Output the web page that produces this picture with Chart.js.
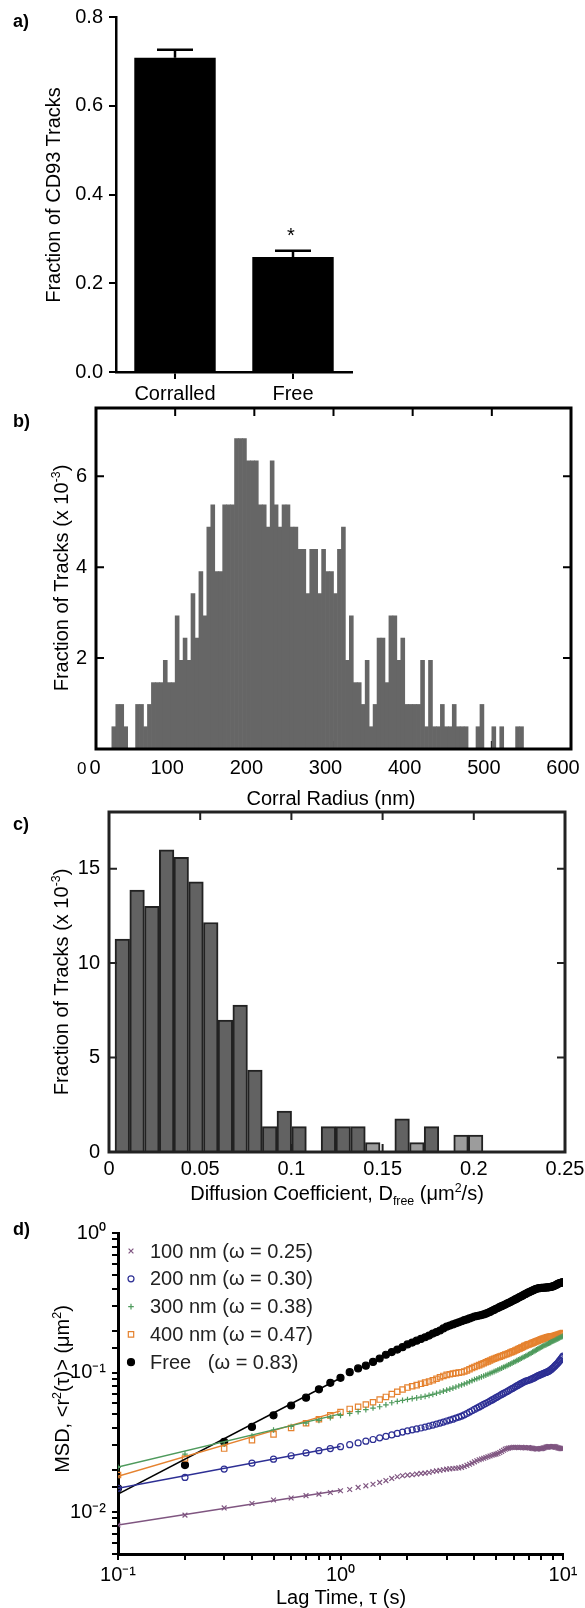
<!DOCTYPE html>
<html>
<head>
<meta charset="utf-8">
<script src="https://cdn.jsdelivr.net/npm/chart.js@4.4.1/dist/chart.umd.min.js"></script>
<style>
  body { margin:0; width:585px; height:1608px; position:relative; background:#fff; overflow:hidden;
         font-family:"Liberation Sans", Arial, Helvetica, sans-serif; color:#000; }
  canvas { position:absolute; left:0; }
  .tag { position:absolute; left:13px; font-size:18px; font-weight:bold; line-height:1; }
  .ttl { position:absolute; font-size:20px; line-height:1; white-space:nowrap; transform:translate(-50%,-50%); }
  .ttl.v { transform:translate(-50%,-50%) rotate(-90deg); }
  .zeros { position:absolute; left:77px; top:757px; font-size:20px; line-height:1; white-space:nowrap; z-index:5; }
  sup, sub { font-size:0.62em; line-height:0; }
</style>
</head>
<body>
<canvas id="chartA" width="585" height="400" style="top:0"></canvas>
<canvas id="chartB" width="585" height="400" style="top:390px"></canvas>
<canvas id="chartC" width="585" height="410" style="top:790px"></canvas>
<canvas id="chartD" width="585" height="408" style="top:1200px"></canvas>

<div class="tag" style="top:12px">a)</div>
<div class="tag" style="top:412px">b)</div>
<div class="tag" style="top:815px">c)</div>
<div class="tag" style="top:1220px">d)</div>

<div class="ttl v" style="left:53px;top:195px">Fraction of CD93 Tracks</div>
<div class="ttl v" style="left:61px;top:578px">Fraction of Tracks (x 10<sup>-3</sup>)</div>
<div class="zeros"><span style="font-size:17px">0</span><span style="margin-left:3px">0</span></div>
<div class="ttl" style="left:331px;top:798px">Corral Radius (nm)</div>
<div class="ttl v" style="left:61px;top:982px">Fraction of Tracks (x 10<sup>-3</sup>)</div>
<div class="ttl" style="left:337px;top:1193px">Diffusion Coefficient, D<sub>free</sub> (μm<sup>2</sup>/s)</div>
<div class="ttl v" style="left:62px;top:1389px">MSD, &lt;r<sup>2</sup>(τ)&gt; (μm<sup>2</sup>)</div>
<div class="ttl" style="left:341px;top:1597px">Lag Time, τ (s)</div>

<script>
// a) corralled vs free
var trackCats = ['Corralled', 'Free'];
var trackFrac = [0.708, 0.259];
var trackErr = [0.018, 0.014];

// b) corral radius histogram (nm, x 10^-3)
var radiusBins = [22.5,27.5,32.5,37.5,42.5,47.5,52.5,57.5,62.5,67.5,
  72.5,77.5,82.5,87.5,92.5,97.5,102.5,107.5,112.5,117.5,
  122.5,127.5,132.5,137.5,142.5,147.5,152.5,157.5,162.5,167.5,
  172.5,177.5,182.5,187.5,192.5,197.5,202.5,207.5,212.5,217.5,
  222.5,227.5,232.5,237.5,242.5,247.5,252.5,257.5,262.5,267.5,
  272.5,277.5,282.5,287.5,292.5,297.5,302.5,307.5,312.5,317.5,
  322.5,327.5,332.5,337.5,342.5,347.5,352.5,357.5,362.5,367.5,
  372.5,377.5,382.5,387.5,392.5,397.5,402.5,407.5,412.5,417.5,
  422.5,427.5,432.5,437.5,442.5,447.5,452.5,457.5,462.5,467.5,
  472.5,477.5,482.5,487.5,492.5,497.5,502.5,507.5,512.5,517.5,
  522.5,527.5,532.5,537.5];
var radiusFrac = [0.49,0.98,0.98,0.49,0,0,0.98,0.98,0.49,0.98,
  1.46,1.46,1.46,1.95,1.46,1.46,2.93,1.95,2.44,1.95,
  3.42,2.44,3.9,2.93,4.88,5.37,3.9,3.9,5.37,5.37,
  5.37,6.83,6.83,6.83,6.34,6.34,6.34,5.37,5.37,4.88,
  6.34,5.37,4.88,5.37,5.37,4.88,4.88,4.39,4.39,3.42,
  4.39,4.39,3.42,4.39,3.9,3.9,3.42,4.39,4.88,1.95,
  2.93,1.46,1.46,0.98,1.95,0.49,0.98,2.44,2.44,1.46,
  2.93,2.93,1.95,2.44,0.98,0.98,0.98,0.98,1.95,0.49,
  1.95,0.49,0.49,0.98,0.49,0.49,0.98,0.49,0.49,0.49,
  0,0,0.49,0.98,0,0,0.49,0,0.49,0,
  0,0,0.49,0.49];

// c) diffusion coefficient histogram (um^2/s, x 10^-3)
var diffBins = [0.0073,0.0154,0.0235,0.0316,0.0396,0.0477,0.0558,0.0638,0.0719,0.0800,
  0.0881,0.0961,0.1042,0.1123,0.1203,0.1284,0.1365,0.1446,0.1526,0.1607,
  0.1688,0.1768,0.1849,0.1930,0.2010];
var diffFrac = [11.27,13.86,13.0,16.0,15.6,14.3,12.15,6.98,7.78,4.34,
  1.34,2.17,1.34,0,1.34,1.34,1.34,0.5,0,1.75,
  0.5,1.34,0,0.9,0.9];

// d) MSD vs lag time
var lagTime = [0.1,0.2,0.3,0.4,0.5,0.6,0.7,0.8,0.9,1.0,
  1.1,1.2,1.3,1.4,1.5,1.6,1.7,1.8,1.9,2.0,
  2.1,2.2,2.3,2.4,2.5,2.6,2.7,2.8,2.9,3.0,
  3.1,3.2,3.3,3.4,3.5,3.6,3.7,3.8,3.9,4.0,
  4.1,4.2,4.3,4.4,4.5,4.6,4.7,4.8,4.9,5.0,
  5.1,5.2,5.3,5.4,5.5,5.6,5.7,5.8,5.9,6.0,
  6.1,6.2,6.3,6.4,6.5,6.6,6.7,6.8,6.9,7.0,
  7.1,7.2,7.3,7.4,7.5,7.6,7.7,7.8,7.9,8.0,
  8.1,8.2,8.3,8.4,8.5,8.6,8.7,8.8,8.9,9.0,
  9.1,9.2,9.3,9.4,9.5,9.6,9.7,9.8,9.9,10.0];
var msd100 = [0.00807,0.0095,0.0107,0.0115,0.0122,0.0126,0.0131,0.01345,0.0138,0.0142,
  0.0145,0.0150,0.0154,0.0158,0.0163,0.0168,0.0174,0.0179,0.0182,0.0184,
  0.0185,0.0187,0.0189,0.0190,0.0192,0.0195,0.0197,0.0199,0.0201,0.0203,
  0.0204,0.0205,0.0206,0.0207,0.0209,0.0212,0.0216,0.0220,0.0224,0.0229,
  0.0233,0.0237,0.0240,0.0243,0.0246,0.0249,0.0252,0.0255,0.0258,0.0260,
  0.0263,0.0267,0.0272,0.0277,0.0282,0.0285,0.0287,0.0289,0.0290,0.0291,
  0.0291,0.0290,0.0289,0.0290,0.0291,0.0290,0.0289,0.0288,0.0289,0.0290,
  0.0289,0.0287,0.0286,0.0285,0.0284,0.0283,0.0283,0.0284,0.0285,0.0285,
  0.0286,0.0288,0.0290,0.0292,0.0293,0.0294,0.0294,0.0293,0.0292,0.0294,
  0.0295,0.0294,0.0292,0.0290,0.0288,0.0287,0.0286,0.0285,0.0285,0.0285];
var msd200 = [0.0148,0.0177,0.0203,0.0224,0.0239,0.0253,0.0265,0.0275,0.0285,0.0294,
  0.0304,0.0313,0.0322,0.0331,0.0340,0.0348,0.0357,0.0366,0.0374,0.0381,
  0.0388,0.0394,0.0400,0.0406,0.0413,0.0420,0.0427,0.0434,0.0441,0.0449,
  0.0456,0.0463,0.0471,0.0479,0.0487,0.0497,0.0508,0.0520,0.0532,0.0544,
  0.0556,0.0567,0.0578,0.0590,0.0601,0.0612,0.0624,0.0636,0.0648,0.0660,
  0.0672,0.0684,0.0696,0.0708,0.0719,0.0731,0.0742,0.0754,0.0766,0.0777,
  0.0789,0.0801,0.0813,0.0825,0.0836,0.0847,0.0857,0.0866,0.0873,0.0880,
  0.0887,0.0895,0.0905,0.0915,0.0925,0.0935,0.0945,0.0955,0.0963,0.0970,
  0.0978,0.0986,0.0994,0.1002,0.1010,0.1018,0.1030,0.1045,0.1060,0.1075,
  0.1095,0.1115,0.1135,0.1155,0.1175,0.1200,0.1225,0.1255,0.1280,0.1310];
var msd300 = [0.0209,0.0260,0.0306,0.0351,0.0387,0.0410,0.0433,0.0454,0.0474,0.0493,
  0.0509,0.0524,0.0541,0.0556,0.0568,0.0587,0.0607,0.0621,0.0631,0.0641,
  0.0650,0.0658,0.0666,0.0674,0.0685,0.0697,0.0710,0.0722,0.0735,0.0748,
  0.0760,0.0773,0.0787,0.0800,0.0814,0.0828,0.0843,0.0858,0.0874,0.0890,
  0.0903,0.0917,0.0930,0.0944,0.0958,0.0972,0.0986,0.1001,0.1015,0.1030,
  0.1045,0.1060,0.1075,0.1090,0.1105,0.1120,0.1136,0.1152,0.1168,0.1185,
  0.1200,0.1216,0.1232,0.1248,0.1264,0.1280,0.1296,0.1312,0.1328,0.1345,
  0.1363,0.1381,0.1399,0.1417,0.1435,0.1453,0.1471,0.1489,0.1507,0.1525,
  0.1540,0.1555,0.1570,0.1585,0.1600,0.1615,0.1630,0.1645,0.1660,0.1675,
  0.1690,0.1705,0.1720,0.1735,0.1750,0.1765,0.1780,0.1795,0.1808,0.1820];
var msd400 = [0.0184,0.0242,0.0285,0.0327,0.0360,0.0400,0.0433,0.0462,0.0493,0.0521,
  0.0548,0.0568,0.0590,0.0612,0.0640,0.0668,0.0700,0.0728,0.0755,0.0780,
  0.0797,0.0812,0.0830,0.0846,0.0862,0.0880,0.0902,0.0925,0.0945,0.0962,
  0.0972,0.0982,0.0990,0.0998,0.1005,0.1018,0.1035,0.1055,0.1076,0.1096,
  0.1112,0.1130,0.1148,0.1166,0.1185,0.1201,0.1220,0.1238,0.1255,0.1270,
  0.1285,0.1300,0.1315,0.1330,0.1345,0.1358,0.1373,0.1390,0.1405,0.1420,
  0.1437,0.1455,0.1472,0.1490,0.1508,0.1525,0.1545,0.1563,0.1578,0.1590,
  0.1600,0.1615,0.1630,0.1645,0.1660,0.1675,0.1690,0.1705,0.1718,0.1730,
  0.1742,0.1755,0.1765,0.1775,0.1785,0.1793,0.1802,0.1810,0.1815,0.1820,
  0.1828,0.1836,0.1845,0.1855,0.1865,0.1875,0.1885,0.1895,0.1905,0.1920];
var msdFree = [0.0148,0.0217,0.0318,0.0407,0.0493,0.058,0.066,0.0757,0.0843,0.0916,
  0.1005,0.107,0.112,0.119,0.126,0.134,0.140,0.146,0.152,0.159,
  0.164,0.169,0.174,0.179,0.184,0.190,0.195,0.200,0.207,0.213,
  0.217,0.221,0.225,0.229,0.233,0.237,0.240,0.244,0.248,0.252,
  0.254,0.256,0.258,0.261,0.264,0.268,0.272,0.277,0.281,0.286,
  0.290,0.295,0.299,0.303,0.307,0.312,0.316,0.320,0.325,0.329,
  0.334,0.338,0.343,0.348,0.352,0.357,0.362,0.366,0.371,0.375,
  0.379,0.383,0.387,0.391,0.395,0.398,0.400,0.402,0.403,0.404,
  0.405,0.405,0.406,0.406,0.407,0.408,0.409,0.410,0.412,0.414,
  0.417,0.420,0.424,0.428,0.432,0.435,0.438,0.440,0.442,0.444];
// power-law fits, drawn from tau = 0.1 to 1 s
var fitLag = [0.1, 1.0];
var fit100 = [0.00807, 0.0143];
var fit200 = [0.0148, 0.0295];
var fit300 = [0.0210, 0.0505];
var fit400 = [0.0180, 0.0531];
var fitFree = [0.01345, 0.0913];
var msdNames = ['100 nm (ω = 0.25)', '200 nm (ω = 0.30)', '300 nm (ω = 0.38)', '400 nm (ω = 0.47)', 'Free   (ω = 0.83)'];

var fam = '"Liberation Sans", Arial, Helvetica, sans-serif';
Chart.defaults.font.family = fam;
Chart.defaults.font.size = 20;
Chart.defaults.color = '#000';
Chart.defaults.animation = false;
Chart.defaults.plugins.legend.display = false;
Chart.defaults.plugins.tooltip.enabled = false;

// fixes the plot area to given pixel edges
function pin(w, h, l, t, r, b) {
  return {
    padding: { left: 0, top: t, right: w - r, bottom: 0 },
    x: function (s) { s.height = h - b; s.paddingLeft = 0; s.paddingRight = 0; },
    y: function (s) { s.width = l; s.paddingTop = 0; s.paddingBottom = 0; }
  };
}

var errPlugin = {
  id: 'errbars',
  afterDatasetsDraw: function (chart, args, o) {
    var ctx = chart.ctx, ys = chart.scales.y, vals = chart.data.datasets[0].data;
    chart.getDatasetMeta(0).data.forEach(function (bar, i) {
      var top = ys.getPixelForValue(vals[i] + o.errors[i]);
      ctx.save();
      ctx.strokeStyle = '#000';
      ctx.lineWidth = 2.5;
      ctx.beginPath();
      ctx.moveTo(bar.x, bar.y);
      ctx.lineTo(bar.x, top);
      ctx.moveTo(bar.x - 18, top);
      ctx.lineTo(bar.x + 18, top);
      ctx.stroke();
      if (i === o.star) {
        ctx.fillStyle = '#000';
        ctx.font = '20px ' + fam;
        ctx.textAlign = 'center';
        ctx.textBaseline = 'alphabetic';
        ctx.fillText('*', bar.x - 2, top - 9);
      }
      ctx.restore();
    });
  }
};

// boxed frame with inward ticks (panels b, c)
var framePlugin = {
  id: 'frame',
  beforeDatasetsDraw: function (chart, args, o) {
    var ctx = chart.ctx, a = chart.chartArea, xs = chart.scales.x;
    ctx.save();
    ctx.strokeStyle = o.color;
    ctx.lineWidth = 2;
    ctx.beginPath();
    o.xTicks.forEach(function (v) {
      var px = xs.getPixelForValue(v);
      ctx.moveTo(px, a.bottom);
      ctx.lineTo(px, a.bottom - o.len);
    });
    ctx.stroke();
    ctx.restore();
  },
  afterDatasetsDraw: function (chart, args, o) {
    var ctx = chart.ctx, a = chart.chartArea, xs = chart.scales.x, ys = chart.scales.y;
    ctx.save();
    ctx.strokeStyle = o.color;
    ctx.lineWidth = 2;
    ctx.beginPath();
    o.xTicks.forEach(function (v) {
      var px = xs.getPixelForValue(v);
      ctx.moveTo(px, a.top);
      ctx.lineTo(px, a.top + o.len);
    });
    o.yTicks.forEach(function (v) {
      var py = ys.getPixelForValue(v);
      ctx.moveTo(a.left, py);
      ctx.lineTo(a.left + o.len, py);
      ctx.moveTo(a.right, py);
      ctx.lineTo(a.right - o.len, py);
    });
    ctx.stroke();
    ctx.lineWidth = o.width;
    ctx.strokeRect(a.left, a.top, a.right - a.left, a.bottom - a.top);
    ctx.restore();
  }
};

var legendPlugin = {
  id: 'msdLegend',
  afterDatasetsDraw: function (chart, args, o) {
    var ctx = chart.ctx, y = o.top;
    chart.data.datasets.forEach(function (ds) {
      if (ds.fitLine) return;
      ctx.save();
      ctx.strokeStyle = ds.pointBorderColor;
      ctx.fillStyle = ds.pointBackgroundColor;
      ctx.lineWidth = ds.pointBorderWidth;
      Chart.helpers.drawPoint(ctx, { pointStyle: ds.pointStyle, radius: ds.pointRadius, borderWidth: ds.pointBorderWidth, rotation: 0 }, o.x, y);
      ctx.fillStyle = '#222';
      ctx.font = '20px ' + fam;
      ctx.textAlign = 'left';
      ctx.textBaseline = 'middle';
      ctx.fillText(ds.label, o.textX, y + 1);
      ctx.restore();
      y += o.step;
    });
  }
};

// ---- a)
var pa = pin(585, 400, 116, 17, 352, 372);
new Chart(document.getElementById('chartA'), {
  type: 'bar',
  data: { labels: trackCats, datasets: [{ data: trackFrac, backgroundColor: '#000', barPercentage: 0.69, categoryPercentage: 1 }] },
  options: {
    responsive: false,
    layout: { padding: pa.padding },
    scales: {
      x: {
        afterFit: pa.x,
        grid: { drawOnChartArea: false, offset: false, tickLength: 7, color: '#000', lineWidth: 2 },
        border: { color: '#000', width: 2.5 },
        ticks: { padding: 3, maxRotation: 0 }
      },
      y: {
        afterFit: pa.y, min: 0, max: 0.8,
        grid: { drawOnChartArea: false, tickLength: 7, color: '#000', lineWidth: 2 },
        border: { color: '#000', width: 2.5 },
        ticks: { stepSize: 0.2, padding: 6, callback: function (v) { return v.toFixed(1); } }
      }
    },
    plugins: { errbars: { errors: trackErr, star: 1 } }
  },
  plugins: [errPlugin]
});

// ---- b)
var pb = pin(585, 400, 96, 18, 571, 359);
new Chart(document.getElementById('chartB'), {
  type: 'bar',
  data: {
    datasets: [{
      data: radiusBins.map(function (r, i) { return { x: r, y: radiusFrac[i] }; }),
      backgroundColor: '#666666', borderWidth: 0, barPercentage: 1, categoryPercentage: 1
    }]
  },
  options: {
    responsive: false,
    layout: { padding: pb.padding },
    scales: {
      x: {
        type: 'linear', min: 0, max: 600, offset: false, afterFit: pb.x,
        grid: { display: false, drawTicks: false }, border: { display: false },
        ticks: { stepSize: 100, padding: 7, labelOffset: -8, maxRotation: 0, autoSkip: false,
          callback: function (v) { return v === 0 ? '' : v; } }
      },
      y: {
        min: 0, max: 7.5, afterFit: pb.y,
        grid: { display: false, drawTicks: false }, border: { display: false },
        ticks: { stepSize: 2, padding: 9, callback: function (v) { return (v > 0 && v % 2 === 0) ? v : ''; } }
      }
    },
    plugins: { frame: { color: '#000', width: 3, len: 8, xTicks: [100, 200, 300, 400, 500], yTicks: [2, 4, 6] } }
  },
  plugins: [framePlugin]
});

// ---- c)
var pc = pin(585, 410, 109, 22, 565, 362);
var lightBins = [17, 20, 23, 24];
new Chart(document.getElementById('chartC'), {
  type: 'bar',
  data: {
    datasets: [{
      data: diffBins.map(function (d, i) { return { x: d, y: diffFrac[i] }; }),
      backgroundColor: function (c) { return lightBins.indexOf(c.dataIndex) >= 0 ? '#9c9c9c' : '#626262'; },
      borderColor: '#222', borderWidth: 2, barPercentage: 1, categoryPercentage: 1
    }]
  },
  options: {
    responsive: false,
    layout: { padding: pc.padding },
    scales: {
      x: {
        type: 'linear', min: 0, max: 0.25, offset: false, afterFit: pc.x,
        grid: { display: false, drawTicks: false }, border: { display: false },
        ticks: { stepSize: 0.05, padding: 5, maxRotation: 0, autoSkip: false,
          callback: function (v) { return v === 0 ? '0' : String(+v.toFixed(2)); } }
      },
      y: {
        min: 0, max: 18, afterFit: pc.y,
        grid: { display: false, drawTicks: false }, border: { display: false },
        ticks: { stepSize: 5, padding: 9, callback: function (v) { return v % 5 === 0 ? v : ''; } }
      }
    },
    plugins: { frame: { color: '#222', width: 3, len: 8, xTicks: [0.05, 0.1, 0.15, 0.2], yTicks: [5, 10, 15] } }
  },
  plugins: [framePlugin]
});

// ---- d)
var pd = pin(585, 408, 118, 33, 563, 354);
var pow10 = { '-2': '10⁻²', '-1': '10⁻¹', '0': '10⁰', '1': '10¹' };
function logLabel(v) {
  var l = Math.log10(v), e = Math.round(l);
  return Math.abs(l - e) < 1e-6 ? (pow10[e] || '') : '';
}
var msdSets = [
  { label: msdNames[0], values: msd100, fit: fit100, color: '#7f5580', style: 'crossRot', r: 3.4, hollow: true },
  { label: msdNames[1], values: msd200, fit: fit200, color: '#2d2f94', style: 'circle', r: 3, hollow: true },
  { label: msdNames[2], values: msd300, fit: fit300, color: '#4e9a5c', style: 'cross', r: 2.8, hollow: true },
  { label: msdNames[3], values: msd400, fit: fit400, color: '#e5822f', style: 'rect', r: 3.8, hollow: true },
  { label: msdNames[4], values: msdFree, fit: fitFree, color: '#000000', style: 'circle', r: 3.5, hollow: false }
];
var msdData = [];
msdSets.forEach(function (s) {
  msdData.push({
    label: s.label,
    data: lagTime.map(function (t, i) { return { x: t, y: s.values[i] }; }),
    showLine: false, pointStyle: s.style, pointRadius: s.r,
    pointBorderColor: s.color, pointBackgroundColor: s.hollow ? 'rgba(0,0,0,0)' : s.color,
    pointBorderWidth: 1.2, borderColor: s.color, order: 2
  });
  msdData.push({
    fitLine: true,
    data: fitLag.map(function (t, i) { return { x: t, y: s.fit[i] }; }),
    showLine: true, borderColor: s.color, borderWidth: 1.5, pointRadius: 0, order: 1
  });
});
new Chart(document.getElementById('chartD'), {
  type: 'line',
  data: { datasets: msdData },
  options: {
    responsive: false,
    layout: { padding: pd.padding },
    scales: {
      x: {
        type: 'logarithmic', min: 0.1, max: 10, afterFit: pd.x,
        grid: { drawOnChartArea: false, tickLength: 6, color: '#000', lineWidth: 2 },
        border: { color: '#000', width: 3 },
        ticks: { padding: 3, autoSkip: false, maxRotation: 0, callback: logLabel }
      },
      y: {
        type: 'logarithmic', min: 0.005, max: 1, afterFit: pd.y,
        grid: { drawOnChartArea: false, tickLength: 6, color: '#000', lineWidth: 2 },
        border: { color: '#000', width: 3 },
        ticks: { padding: 6, autoSkip: false, callback: logLabel }
      }
    },
    plugins: { msdLegend: { x: 131, textX: 150, top: 51, step: 27.8 } }
  },
  plugins: [legendPlugin]
});
</script>
</body>
</html>
